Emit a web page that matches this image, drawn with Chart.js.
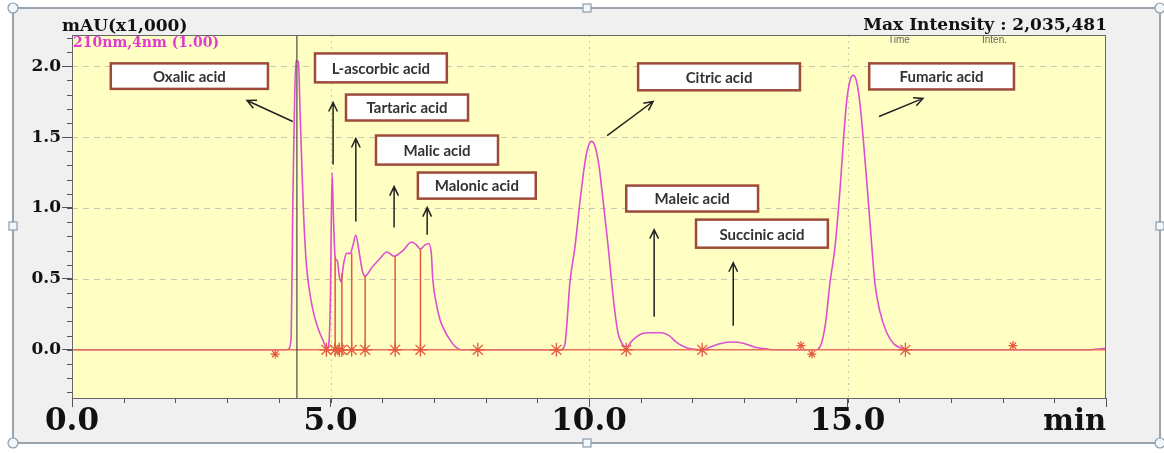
<!DOCTYPE html>
<html>
<head>
<meta charset="utf-8">
<script src="https://cdn.jsdelivr.net/npm/chart.js@4.4.0/dist/chart.umd.min.js"></script>
<style>
    html, body { margin: 0; padding: 0; background: #fff; }
    #contenedor { width: 1164px; height: 453px; }
</style>
</head>
<body>
<div id="contenedor"><canvas id="grafico-cromatograma" width="1164" height="453"></canvas></div>
<script>
const tiempos = [
    0.00, 4.15, 4.20, 4.24, 4.27, 4.30, 4.33, 4.38, 4.41, 4.45, 4.48, 4.53, 4.58, 4.66, 4.75, 4.85, 4.93,
    4.97, 5.00, 5.03, 5.06, 5.09, 5.13, 5.17, 5.20, 5.26, 5.31, 5.38, 5.43, 5.49, 5.55, 5.62, 5.67,
    5.80, 5.95, 6.09, 6.23, 6.40, 6.57, 6.66, 6.74, 6.83, 6.90, 6.95, 6.98, 7.05, 7.12, 7.20, 7.31, 7.42, 7.52,
    9.45, 9.50, 9.54, 9.58, 9.63, 9.73, 9.83, 9.93, 10.00, 10.05, 10.12, 10.20, 10.27, 10.37, 10.44, 10.50, 10.56, 10.63, 10.72,
    10.85, 11.00, 11.20, 11.40, 11.55, 11.70, 11.85, 12.00, 12.19,
    12.35, 12.55, 12.78, 13.00, 13.20, 13.45, 13.60,
    14.40, 14.50, 14.58, 14.66, 14.76, 14.84, 14.98, 15.05, 15.11, 15.17, 15.24, 15.40, 15.47, 15.53, 15.62, 15.76, 15.90, 16.05, 16.15,
    19.60, 20.00
];
const senal = [
    0, 0, 0.01, 0.10, 1.00, 1.65, 2.04, 2.03, 1.70, 1.25, 0.95, 0.62, 0.45, 0.28, 0.16, 0.07, 0.01,
    0.05, 0.40, 1.25, 0.90, 0.65, 0.63, 0.52, 0.48, 0.62, 0.68, 0.68, 0.73, 0.81, 0.70, 0.55, 0.52,
    0.58, 0.64, 0.69, 0.66, 0.70, 0.76, 0.74, 0.71, 0.74, 0.75, 0.68, 0.49, 0.32, 0.21, 0.14, 0.07, 0.02, 0,
    0, 0.01, 0.05, 0.22, 0.47, 0.73, 1.06, 1.34, 1.45, 1.47, 1.43, 1.28, 1.06, 0.73, 0.47, 0.27, 0.12, 0.05, 0.02,
    0.07, 0.11, 0.12, 0.12, 0.10, 0.05, 0.02, 0.005, 0,
    0.02, 0.045, 0.055, 0.045, 0.02, 0.005, 0,
    0, 0.05, 0.20, 0.47, 0.73, 1.06, 1.74, 1.90, 1.935, 1.90, 1.74, 1.06, 0.73, 0.47, 0.28, 0.12, 0.04, 0.01, 0,
    0, 0.01
];

// Marcas de integración (asteriscos) sobre la línea base
const marcasTiempo = [4.92, 5.09, 5.17, 5.22, 5.41, 5.67, 6.25, 6.74, 7.85, 9.37, 10.72, 12.19, 16.12];
const marcasChicasTiempo = [3.93, 14.10, 14.31, 18.20];
const marcasChicasNivel = [-0.03, 0.03, -0.03, 0.03];

// Líneas verticales de separación de picos
const cortesTiempo = [5.09, 5.22, 5.41, 5.67, 6.25, 6.74];
const cortesAltura = [0.65, 0.54, 0.68, 0.52, 0.66, 0.71];

const cursorTiempo = 4.35;

const ticksX = [0, 5, 10, 15, 20];
const ticksY = [0, 0.5, 1.0, 1.5, 2.0];
const rangoX = [0, 20];
const rangoY = [-0.34, 2.22];

// Etiquetas de los ácidos
const nombres = ['Oxalic acid', 'L-ascorbic acid', 'Tartaric acid', 'Malic acid', 'Malonic acid',
    'Citric acid', 'Fumaric acid', 'Maleic acid', 'Succinic acid'];
// cajas en coordenadas de datos: [t izq, valor arriba, t der, valor abajo]
const cajas = [
    [0.75, 2.02, 3.79, 1.84], [4.70, 2.09, 7.25, 1.886], [5.30, 1.80, 7.66, 1.617],
    [5.88, 1.511, 8.24, 1.306], [6.69, 1.25, 8.97, 1.066], [10.95, 2.02, 14.08, 1.83],
    [15.42, 2.02, 18.22, 1.836], [10.72, 1.158, 13.27, 0.975], [12.07, 0.918, 14.62, 0.72]
];
// flechas: [t desde, valor desde, t hasta, valor hasta]
const flechas = [
    [4.27, 1.61, 3.385, 1.758], [5.05, 1.306, 5.05, 1.744], [5.49, 0.904, 5.49, 1.49],
    [6.23, 0.862, 6.23, 1.151], [6.87, 0.812, 6.87, 1.003], [10.35, 1.511, 11.24, 1.751],
    [11.26, 0.233, 11.26, 0.847], [12.79, 0.169, 12.79, 0.614], [15.61, 1.645, 16.46, 1.773]
];

const puntos = tiempos.map((t, i) => ({ x: t, y: senal[i] }));
const marcas = marcasTiempo.map(t => ({ x: t, y: 0 }));
const marcasChicas = marcasChicasTiempo.map((t, i) => ({ x: t, y: marcasChicasNivel[i] }));
const cortes = [];
cortesTiempo.forEach((t, i) => {
    cortes.push({ x: t, y: 0 }, { x: t, y: cortesAltura[i] }, { x: t, y: null });
});

const ROJO = '#e4583c';

function flecha(ctx, x1, y1, x2, y2) {
    const ang = Math.atan2(y2 - y1, x2 - x1);
    ctx.beginPath();
    ctx.moveTo(x1, y1);
    ctx.lineTo(x2, y2);
    ctx.moveTo(x2 - 10 * Math.cos(ang - 0.45), y2 - 10 * Math.sin(ang - 0.45));
    ctx.lineTo(x2, y2);
    ctx.lineTo(x2 - 10 * Math.cos(ang + 0.45), y2 - 10 * Math.sin(ang + 0.45));
    ctx.stroke();
}

// Fondo, marco de selección, rejilla y textos
const pluginMarco = {
    id: 'marco',
    beforeDraw(chart) {
        const ctx = chart.ctx;
        const a = chart.chartArea;
        ctx.save();
        ctx.fillStyle = '#ffffff';
        ctx.fillRect(0, 0, chart.width, chart.height);
        ctx.fillStyle = '#f0f0f0';
        ctx.fillRect(13, 8, 1147, 435);
        ctx.fillStyle = '#ffffc4';
        ctx.fillRect(a.left, a.top, a.right - a.left, a.bottom - a.top);
        ctx.restore();
    },
    beforeDatasetsDraw(chart) {
        const ctx = chart.ctx;
        const a = chart.chartArea;
        const sx = chart.scales.x, sy = chart.scales.y;
        ctx.save();
        // rejilla horizontal discontinua
        ctx.strokeStyle = '#c9c9b2';
        ctx.lineWidth = 1;
        ctx.setLineDash([6, 5]);
        ticksY.forEach(v => {
            if (v === 0) return;
            const y = Math.round(sy.getPixelForValue(v)) + 0.5;
            ctx.beginPath(); ctx.moveTo(a.left, y); ctx.lineTo(a.right, y); ctx.stroke();
        });
        // rejilla vertical punteada
        ctx.setLineDash([2, 4]);
        ticksX.forEach(v => {
            if (v === 0 || v === 20) return;
            const x = Math.round(sx.getPixelForValue(v)) + 0.5;
            ctx.beginPath(); ctx.moveTo(x, a.top); ctx.lineTo(x, a.bottom); ctx.stroke();
        });
        ctx.setLineDash([]);
        // marcas menores
        ctx.strokeStyle = '#555';
        for (let v = -3; v <= 22; v++) {
            const y = Math.round(sy.getPixelForValue(v / 10)) + 0.5;
            ctx.beginPath(); ctx.moveTo(a.left - 5, y); ctx.lineTo(a.left, y); ctx.stroke();
        }
        for (let t = 0; t <= 20; t++) {
            const x = Math.round(sx.getPixelForValue(t)) + 0.5;
            ctx.beginPath(); ctx.moveTo(x, a.bottom); ctx.lineTo(x, a.bottom + 5); ctx.stroke();
        }
        ctx.restore();
    },
    afterDraw(chart) {
        const ctx = chart.ctx;
        const a = chart.chartArea;
        const sx = chart.scales.x, sy = chart.scales.y;
        ctx.save();
        // borde del área
        ctx.strokeStyle = '#666';
        ctx.lineWidth = 1;
        ctx.strokeRect(a.left + 0.5, a.top + 0.5, a.right - a.left - 1, a.bottom - a.top);

        // flechas
        ctx.strokeStyle = '#222';
        ctx.lineWidth = 1.5;
        flechas.forEach(f => {
            flecha(ctx, sx.getPixelForValue(f[0]), sy.getPixelForValue(f[1]),
                sx.getPixelForValue(f[2]), sy.getPixelForValue(f[3]));
        });

        // cajas con nombres
        cajas.forEach((c, i) => {
            const x1 = sx.getPixelForValue(c[0]), y1 = sy.getPixelForValue(c[1]);
            const x2 = sx.getPixelForValue(c[2]), y2 = sy.getPixelForValue(c[3]);
            ctx.fillStyle = '#ffffff';
            ctx.fillRect(x1, y1, x2 - x1, y2 - y1);
            ctx.strokeStyle = '#9e4a3a';
            ctx.lineWidth = 2.5;
            ctx.strokeRect(x1, y1, x2 - x1, y2 - y1);
            ctx.fillStyle = '#333';
            ctx.font = 'bold 15px Lato';
            ctx.textAlign = 'center';
            ctx.textBaseline = 'middle';
            ctx.fillText(nombres[i], (x1 + x2) / 2, (y1 + y2) / 2 + 1);
        });

        // textos de cabecera
        ctx.fillStyle = '#111';
        ctx.textBaseline = 'alphabetic';
        ctx.font = 'bold 17px "DejaVu Serif"';
        ctx.textAlign = 'left';
        ctx.fillText('mAU(x1,000)', 62, 31);
        ctx.textAlign = 'right';
        ctx.fillText('Max Intensity : 2,035,481', 1107, 30);
        ctx.fillStyle = '#e03ad2';
        ctx.font = 'bold 14px "DejaVu Serif"';
        ctx.textAlign = 'left';
        ctx.fillText('210nm,4nm (1.00)', 73, 47);
        ctx.fillStyle = '#666';
        ctx.font = '10px "Liberation Sans"';
        ctx.fillText('Time', 888, 43);
        ctx.fillText('Inten.', 982, 43);
        ctx.fillStyle = '#111';
        ctx.font = 'bold 29px "DejaVu Serif"';
        ctx.textAlign = 'right';
        ctx.fillText('min', 1106, 430);

        // marco de selección con tiradores
        ctx.strokeStyle = '#9aa4ae';
        ctx.lineWidth = 2;
        ctx.strokeRect(13, 8, 1147, 435);
        ctx.fillStyle = '#f4f7fa';
        ctx.strokeStyle = '#8a9cab';
        ctx.lineWidth = 1.2;
        [[13, 8], [1160, 8], [13, 443], [1160, 443]].forEach(p => {
            ctx.beginPath(); ctx.arc(p[0], p[1], 5, 0, Math.PI * 2); ctx.fill(); ctx.stroke();
        });
        [[587, 8], [587, 443], [13, 226], [1160, 226]].forEach(p => {
            ctx.fillRect(p[0] - 4, p[1] - 4, 8, 8); ctx.strokeRect(p[0] - 4, p[1] - 4, 8, 8);
        });
        ctx.restore();
    }
};

new Chart(document.getElementById('grafico-cromatograma'), {
    type: 'line',
    data: {
        datasets: [
            {
                label: 'cursor',
                data: [{ x: cursorTiempo, y: rangoY[0] }, { x: cursorTiempo, y: rangoY[1] }],
                borderColor: '#4a4a4a', borderWidth: 1.2, pointRadius: 0, order: 0
            },
            {
                label: 'marcas',
                data: marcas, showLine: false, pointStyle: 'star', pointRadius: 7,
                borderColor: ROJO, backgroundColor: ROJO, borderWidth: 1.3, order: 1
            },
            {
                label: 'marcas chicas',
                data: marcasChicas, showLine: false, pointStyle: 'star', pointRadius: 4.5,
                borderColor: ROJO, backgroundColor: ROJO, borderWidth: 1.2, order: 1
            },
            {
                label: 'base',
                data: [{ x: rangoX[0], y: 0 }, { x: rangoX[1], y: 0 }],
                borderColor: '#e8735a', borderWidth: 1.5, pointRadius: 0, order: 2
            },
            {
                label: 'cortes',
                data: cortes, borderColor: ROJO, borderWidth: 1.5, pointRadius: 0,
                spanGaps: false, order: 3
            },
            {
                label: '210nm,4nm (1.00)',
                data: puntos, borderColor: '#dd4fcf', borderWidth: 1.6, pointRadius: 0,
                cubicInterpolationMode: 'monotone', order: 4
            }
        ]
    },
    options: {
        responsive: false,
        devicePixelRatio: 1,
        animation: false,
        layout: { padding: { top: 35, right: 58, left: 0, bottom: 0 } },
        plugins: { legend: { display: false }, tooltip: { enabled: false } },
        scales: {
            x: {
                type: 'linear', min: rangoX[0], max: rangoX[1],
                afterBuildTicks: s => { s.ticks = ticksX.map(v => ({ value: v })); },
                afterFit: s => { s.height = 55; },
                grid: { drawOnChartArea: false, tickLength: 9, color: '#555' },
                border: { color: '#555' },
                ticks: {
                    maxRotation: 0, padding: -4, color: '#111',
                    font: { family: 'DejaVu Serif', size: 31, weight: 'bold' },
                    callback: v => (v === 20 ? '' : v.toFixed(1))
                }
            },
            y: {
                min: rangoY[0], max: rangoY[1],
                afterBuildTicks: s => { s.ticks = ticksY.map(v => ({ value: v })); },
                afterFit: s => { s.width = 72; },
                grid: { drawOnChartArea: false, tickLength: 10, color: '#555' },
                border: { color: '#555' },
                ticks: {
                    padding: 1, color: '#111',
                    font: { family: 'DejaVu Serif', size: 17, weight: 'bold' },
                    callback: v => v.toFixed(1)
                }
            }
        }
    },
    plugins: [pluginMarco]
});
</script>
</body>
</html>
